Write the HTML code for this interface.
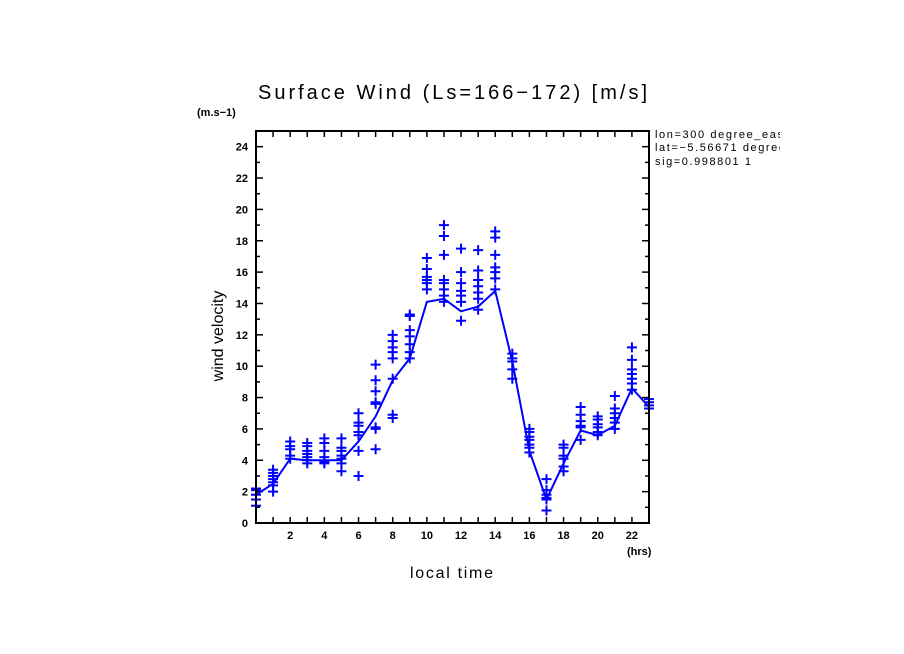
<!DOCTYPE html>
<html><head><meta charset="utf-8"><style>
body{margin:0;background:#fff;}
svg{display:block;font-family:"Liberation Sans",sans-serif;}
</style></head><body>
<svg id="chart" width="904" height="654" viewBox="0 0 904 654" xmlns="http://www.w3.org/2000/svg">
<defs><clipPath id="infoclip"><rect x="650" y="120" width="130" height="60"/></clipPath></defs>
<rect width="904" height="654" fill="#fff"/>
<text x="258" y="99" font-size="20" textLength="389" lengthAdjust="spacing">Surface Wind  (Ls=166−172) [m/s]</text>
<text x="197" y="116" font-size="11" font-weight="bold">(m.s−1)</text>
<text x="627" y="555" font-size="11" font-weight="bold">(hrs)</text>
<text x="410" y="578" font-size="16" textLength="83" lengthAdjust="spacing">local time</text>
<text transform="translate(223,336) rotate(-90)" font-size="16" text-anchor="middle">wind velocity</text>
<g font-size="11" clip-path="url(#infoclip)">
<text x="655" y="138" textLength="128" lengthAdjust="spacing">lon=300 degree_eas</text>
<text x="655" y="151" textLength="130" lengthAdjust="spacing">lat=−5.56671 degree</text>
<text x="655" y="165" textLength="96" lengthAdjust="spacing">sig=0.998801 1</text>
</g>
<g id="axes"></g>
<g id="marks"></g>
<rect x="256" y="131" width="393" height="392" fill="none" stroke="#000" stroke-width="2"/>
</svg>
<script>
const hours = [0,1,2,3,4,5,6,7,8,9,10,11,12,13,14,15,16,17,18,19,20,21,22,23];
const meanWind = [1.8,2.5,4.1,4.0,4.0,4.0,5.2,6.8,9.1,10.5,14.1,14.3,13.5,13.8,14.8,10.3,4.6,1.5,3.8,5.9,5.6,6.2,8.6,7.4];
const samples = [
[2.2,2.1,1.8,1.5,1.1],
[3.4,3.2,3.0,2.8,2.6,2.4,2.0],
[5.2,4.9,4.7,4.3,4.1],
[5.1,4.9,4.6,4.4,4.2,4.0,3.8],
[5.4,5.1,4.6,4.2,3.9,3.8],
[5.4,4.8,4.6,4.3,4.1,3.8,3.3],
[7.0,6.4,6.2,5.8,5.6,4.6,3.0],
[10.1,9.1,8.4,7.7,7.6,6.1,6.0,4.7],
[12.0,11.6,11.2,10.9,10.5,9.2,6.9,6.7],
[13.3,13.2,12.3,11.9,11.4,10.9,10.5],
[16.9,16.2,15.7,15.5,15.3,14.9],
[19.0,18.3,17.1,15.5,15.3,14.9,14.5,14.1],
[17.5,16.0,15.3,14.8,14.5,14.1,12.9],
[17.4,16.1,15.5,15.1,14.7,14.3,13.6],
[18.6,18.2,17.1,16.3,16.0,15.6,14.9],
[10.8,10.5,10.3,9.8,9.2],
[6.0,5.8,5.5,5.3,5.0,4.8,4.5],
[2.8,2.1,1.8,1.6,1.5,0.8],
[5.0,4.8,4.3,4.1,3.6,3.3],
[7.4,6.9,6.5,6.2,6.1,5.3],
[6.8,6.6,6.3,6.1,5.8,5.6],
[8.1,7.3,7.0,6.7,6.4,6.0],
[11.2,10.4,9.8,9.5,9.2,8.9,8.5],
[7.9,7.7,7.5,7.3]
];
const xTickLabels = [2,4,6,8,10,12,14,16,18,20,22];
const yTickLabels = [0,2,4,6,8,10,12,14,16,18,20,22,24];

const NS="http://www.w3.org/2000/svg";
const X0=256,X1=649,Y0=523,Y1=131;
function xs(h){return X0+(h/23)*(X1-X0);}
function ys(v){return Y0-(v/25)*(Y0-Y1);}
function mk(tag,attrs,parent){const e=document.createElementNS(NS,tag);for(const k in attrs)e.setAttribute(k,attrs[k]);parent.appendChild(e);return e;}
const axes=document.getElementById('axes'), marks=document.getElementById('marks');
for(let h=1;h<23;h++){
  const t=mk('line',{x1:xs(h),x2:xs(h),y1:Y0,y2:Y0-6,stroke:'#000','stroke-width':1.5},axes);
  
  
  const t2=mk('line',{x1:xs(h),x2:xs(h),y1:Y1,y2:Y1+6,stroke:'#000','stroke-width':1.5},axes);
  
  
}
xTickLabels.forEach(v=>{
  const t=mk('text',{x:xs(v),y:Y0+16,'font-size':11,'font-weight':'bold','text-anchor':'middle'},axes);
  t.textContent=v;
  
  
});
for(let v=1;v<25;v++){
  const len=v%2===0?7:4;
  const t=mk('line',{x1:X0,x2:X0+len,y1:ys(v),y2:ys(v),stroke:'#000','stroke-width':1.5},axes);
  
  
  const t2=mk('line',{x1:X1,x2:X1-len,y1:ys(v),y2:ys(v),stroke:'#000','stroke-width':1.5},axes);
  
  
}
yTickLabels.forEach(v=>{
  const t=mk('text',{x:X0-8,y:ys(v)+4,'font-size':11,'font-weight':'bold','text-anchor':'end'},axes);
  t.textContent=v;
  
  
});
const pts=hours.map((h,i)=>xs(h)+','+ys(meanWind[i])).join(' ');
const line=mk('polyline',{points:pts,fill:'none',stroke:'#0000ff','stroke-width':2},marks);


samples.forEach((arr,i)=>{
  arr.forEach(v=>{
    const cx=xs(hours[i]),cy=ys(v);
    const p=mk('path',{d:`M${cx-5},${cy}H${cx+5}M${cx},${cy-5}V${cy+5}`,stroke:'#0000ff','stroke-width':2,fill:'none'},marks);
    
    
  });
});
</script>
</body></html>
